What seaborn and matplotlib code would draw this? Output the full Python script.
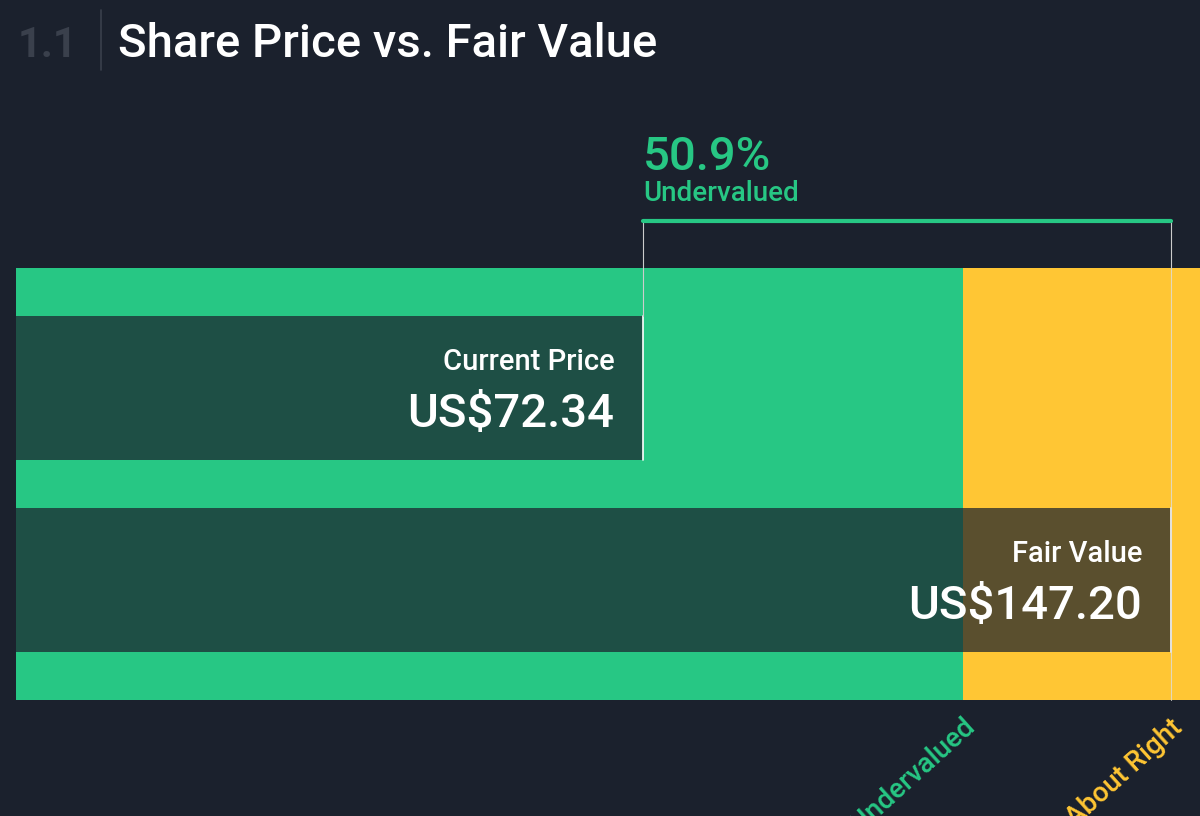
import seaborn as sns
import matplotlib.pyplot as plt
import pandas as pd

labels = ['Current Price', 'Fair Value']
prices = [72.34, 147.20]
undervalued_pct = 50.9
zone_edge = 117.76   # 20% below fair value
axis_min = -16.6
axis_max = 151.3

BG = '#1b212d'
GREEN = '#27c784'
YELLOW = '#ffc634'

sns.set_theme(style='white')
plt.rcParams['font.family'] = ['Roboto', 'DejaVu Sans']

W, H = 1200, 816
fig = plt.figure(figsize=(12, 8.16), dpi=100, facecolor=BG)

def fx(px): return px / W
def fy(py): return 1 - py / H

ax = fig.add_axes([fx(16), fy(700), fx(1184), (700 - 268) / H])
ax.set_facecolor(BG)
ax.axvspan(axis_min, zone_edge, color=GREEN, lw=0)
ax.axvspan(zone_edge, axis_max, color=YELLOW, lw=0)

df = pd.DataFrame({'label': labels, 'price': prices})
sns.barplot(data=df, x='price', y='label', orient='h', width=0.75,
            color=BG, alpha=0.72, saturation=1, linewidth=0, ax=ax)
# bars start at the left edge of the band
for patch, p in zip(ax.patches[-2:], prices):
    patch.set_x(axis_min)
    patch.set_width(p - axis_min)
ax.set_xlim(axis_min, axis_max)
ax.set_ylim(1.625, -0.625)
ax.axis('off')

for i, p in enumerate(prices):
    ax.plot([p, p], [i - 0.375, i + 0.375], color='white', lw=1.2)
    ax.text(p - 4.1, i - 0.06, labels[i], color='white', fontsize=21,
            ha='right', va='bottom', fontweight='medium')
    ax.text(p - 4.1, i + 0.02, f'US${p:.2f}', color='white', fontsize=34,
            ha='right', va='top', fontweight='medium')

# bracket
ax.plot([prices[0], prices[0]], [-0.625, -0.375], color='#cccccc', lw=0.8, clip_on=False)
ax.plot([prices[1], prices[1]], [-0.625, 1.625], color='#dddddd', lw=0.8, clip_on=False, alpha=0.8)
ax.plot([prices[0], prices[0]], [-0.625, -0.87], color='#cccccc', lw=0.8, clip_on=False)
ax.plot([prices[1], prices[1]], [-0.625, -0.87], color='#cccccc', lw=0.8, clip_on=False)
ax.plot([prices[0], prices[1]], [-0.87, -0.87], color=GREEN, lw=3, clip_on=False)

fig.text(fx(643), fy(170), f'{undervalued_pct}%', color=GREEN, fontsize=34,
         fontweight='medium', va='baseline')
fig.text(fx(643), fy(201), 'Undervalued', color=GREEN, fontsize=20,
         fontweight='medium', va='baseline')

# title
fig.text(fx(18), fy(57), '1.1', color='#3a404c', fontsize=30, fontweight='bold', va='baseline')
fig.add_artist(plt.Line2D([fx(101), fx(101)], [fy(10), fy(70)], color='#3a404c', lw=1.2))
fig.text(fx(118), fy(57), 'Share Price vs. Fair Value', color='white', fontsize=34,
         fontweight='medium', va='baseline')

# zone labels
fig.text(fx(962), fy(714), '20% Undervalued', color=GREEN, fontsize=20,
         rotation=42, ha='right', va='top', rotation_mode='anchor', fontweight='medium')
fig.text(fx(1170), fy(714), 'About Right', color=YELLOW, fontsize=20,
         rotation=42, ha='right', va='top', rotation_mode='anchor', fontweight='medium')

fig.savefig('out.png', dpi=100, facecolor=BG)
